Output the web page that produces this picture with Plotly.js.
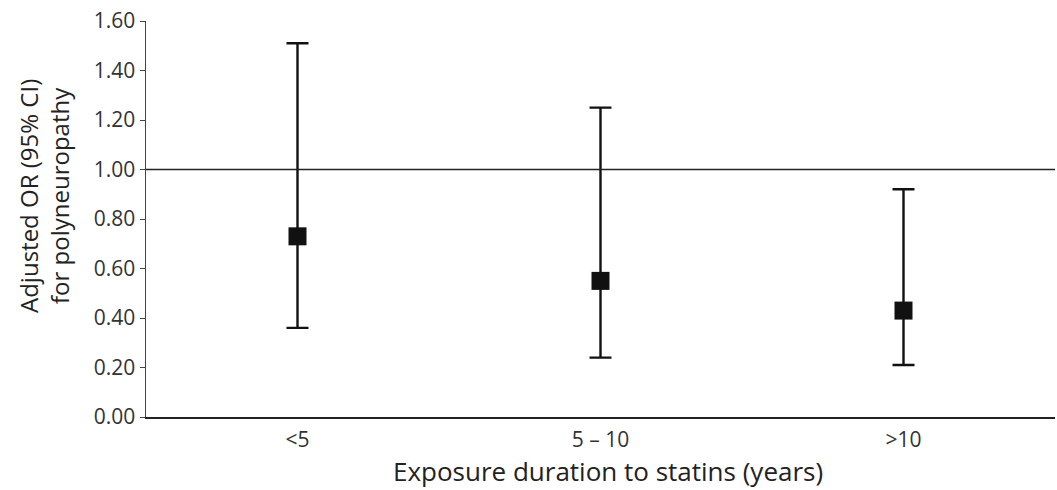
<!DOCTYPE html>
<html>
<head>
<meta charset="utf-8">
<script src="https://cdn.plot.ly/plotly-3.0.1.min.js"></script>
<style>html,body{margin:0;padding:0;background:#fff;}#chart{width:1057px;height:490px;}</style>
</head>
<body>
<div id="chart"></div>
<script>
const categories = ['<5', '5 – 10', '>10'];
const oddsRatio = [0.73, 0.55, 0.43];
const ciLower = [0.36, 0.24, 0.21];
const ciUpper = [1.51, 1.25, 0.92];
const yTicks = [0, 0.2, 0.4, 0.6, 0.8, 1.0, 1.2, 1.4, 1.6];
const xTitle = 'Exposure duration to statins (years)';
const yTitle = 'Adjusted OR (95% CI)<br>for polyneuropathy';

const trace = {
  type: 'scatter',
  mode: 'markers',
  x: categories,
  y: oddsRatio,
  marker: {symbol: 'square', size: 18, color: '#111'},
  error_y: {
    type: 'data',
    symmetric: false,
    array: ciUpper.map((u, i) => u - oddsRatio[i]),
    arrayminus: ciLower.map((l, i) => oddsRatio[i] - l),
    color: '#111',
    thickness: 2.4,
    width: 11
  },
  showlegend: false,
  hoverinfo: 'x+y'
};

const L = 146, R = 2, T = 21, B = 73, W = 1057, H = 490;
const pw = W - L - R, ph = H - T - B;

const layout = {
  width: W,
  height: H,
  margin: {l: L, r: R, t: T, b: B},
  paper_bgcolor: '#fff',
  plot_bgcolor: '#fff',
  font: {family: 'Open Sans, sans-serif', color: '#222'},
  xaxis: {
    type: 'category',
    range: [-0.5, 2.5],
    showline: true,
    linecolor: '#222',
    linewidth: 1.5,
    ticks: '',
    showgrid: false,
    zeroline: false,
    tickfont: {size: 21, color: '#333'},
    ticklabelstandoff: 3
  },
  yaxis: {
    range: [0, 1.6],
    tickvals: yTicks,
    tickformat: '.2f',
    showline: true,
    linecolor: '#444',
    linewidth: 1.5,
    ticks: 'outside',
    ticklen: 5,
    tickcolor: '#444',
    showgrid: false,
    zeroline: false,
    tickfont: {size: 21, color: '#333'}
  },
  annotations: [
    {
      text: xTitle, xref: 'paper', yref: 'paper',
      x: (608 - L) / pw, y: (H - B - 471) / ph,
      xanchor: 'center', yanchor: 'middle', showarrow: false,
      font: {size: 26, color: '#222'}
    },
    {
      text: yTitle, xref: 'paper', yref: 'paper', textangle: -90,
      x: (44 - L) / pw, y: (H - B - 196) / ph,
      xanchor: 'center', yanchor: 'middle', showarrow: false,
      font: {size: 24, color: '#222'}
    }
  ],
  shapes: [{
    type: 'line', xref: 'paper', yref: 'y', x0: 0, x1: 1, y0: 1.0, y1: 1.0,
    line: {color: '#222', width: 1.5}
  }]
};

Plotly.newPlot('chart', [trace], layout, {displayModeBar: false, staticPlot: true});
</script>
</body>
</html>
